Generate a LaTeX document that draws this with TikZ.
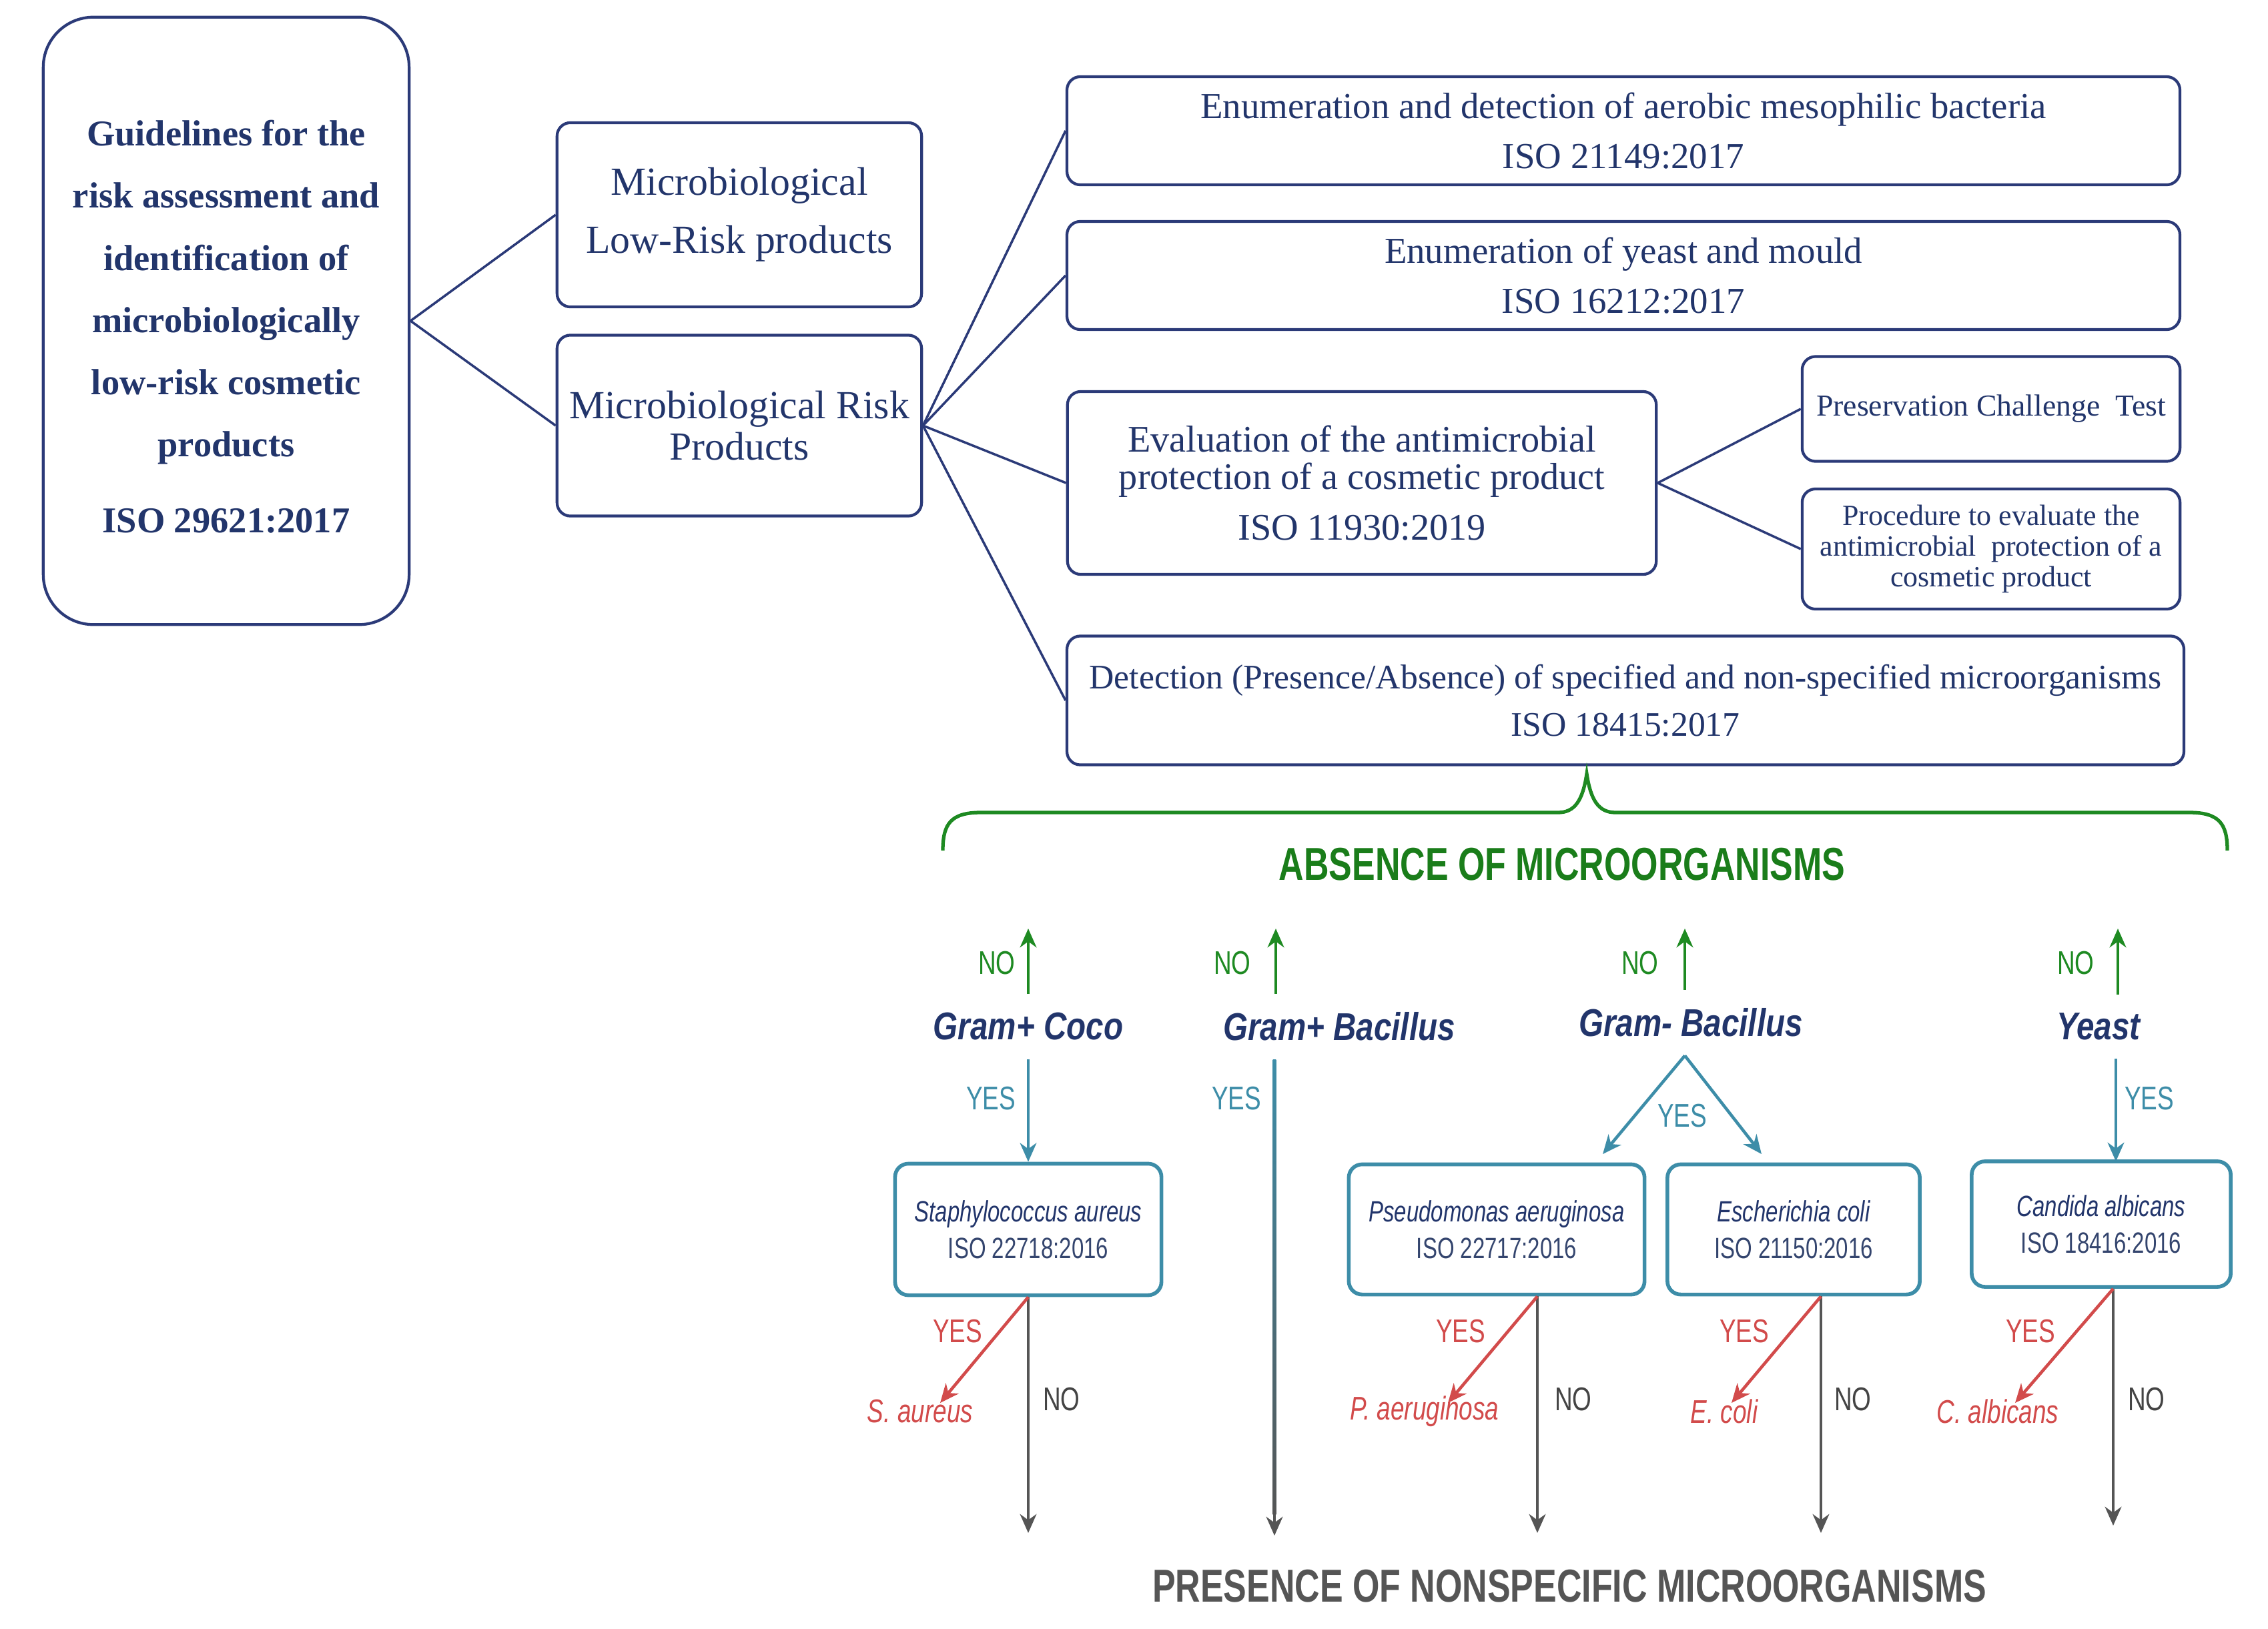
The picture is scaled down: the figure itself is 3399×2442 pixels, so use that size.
\documentclass[tikz,border=0pt]{standalone}
\usepackage{fontspec}
\setmainfont{Liberation Serif}
\newfontfamily\condsans[FakeStretch=0.75]{Liberation Sans}
\newfontfamily\gramsans[FakeStretch=0.82]{Liberation Sans}
\usetikzlibrary{arrows.meta}
\definecolor{navy}{HTML}{2B3A78}
\definecolor{navytext}{HTML}{22356B}
\definecolor{tealc}{HTML}{3D8DA8}
\definecolor{greenc}{HTML}{1E8A22}
\definecolor{greentext}{HTML}{1A7D1A}
\definecolor{redc}{HTML}{D24B4B}
\definecolor{grayc}{HTML}{555555}
\definecolor{isotext}{HTML}{34456E}
\tikzset{
 topbox/.style={draw=navy, line width=1.2pt, rounded corners=0.2cm, text=navytext, align=center, inner sep=0pt},
 link/.style={draw=navy, line width=1pt},
 tealbox/.style={draw=tealc, line width=1.6pt, rounded corners=0.2cm, align=center, inner sep=0pt, text=isotext,
   font=\condsans\fontsize{12.5}{15.6}\selectfont},
 tip/.style={-{Stealth[length=8pt,width=7pt,inset=2.5pt]}},
 garr/.style={draw=greenc, line width=1.3pt, tip},
 tarr/.style={draw=tealc, line width=1.3pt, tip},
 rarr/.style={draw=redc, line width=1.3pt, tip},
 darr/.style={draw=grayc, line width=1.3pt, tip},
 gram/.style={font=\gramsans\bfseries\itshape\fontsize{16.5}{18}\selectfont, text=navytext, inner sep=2pt, outer sep=6pt},
 lbl/.style={font=\condsans\fontsize{14}{16}\selectfont},
 spc/.style={font=\condsans\itshape\fontsize{14}{16}\selectfont, text=redc},
 big/.style={font=\condsans\bfseries\fontsize{19.7}{24}\selectfont},
}
\begin{document}
\begin{tikzpicture}[x=0.01cm, y=-0.01cm]
\useasboundingbox[fill=white] (0,0) rectangle (3399,2442);

% top part
\node[topbox, rounded corners=0.75cm, minimum width=5.48cm, minimum height=9.10cm,
  font=\bfseries\fontsize{15.5}{26.5}\selectfont] (main) at (339,481)
  {\rule{0pt}{16pt}Guidelines for the\\ risk assessment and\\ identification of\\ microbiologically\\ low-risk cosmetic\\ products\\[6pt] ISO 29621:2017};
\node[topbox, minimum width=5.46cm, minimum height=2.76cm, font=\fontsize{17}{24.7}\selectfont] (low) at (1108,322)
  {Microbiological\\ Low-Risk products};
\node[topbox, minimum width=5.46cm, minimum height=2.71cm, font=\fontsize{17}{17.5}\selectfont] (risk) at (1108,638)
  {Microbiological Risk\\ Products};
\node[topbox, minimum width=16.67cm, minimum height=1.62cm, font=\fontsize{15.6}{21.5}\selectfont] (b1) at (2433,196)
  {Enumeration and detection of aerobic mesophilic bacteria\\ ISO 21149:2017};
\node[topbox, minimum width=16.67cm, minimum height=1.62cm, font=\fontsize{15.6}{21.5}\selectfont] (b2) at (2433,413)
  {Enumeration of yeast and mould\\ ISO 16212:2017};
\node[topbox, minimum width=8.82cm, minimum height=2.74cm, font=\fontsize{16}{16}\selectfont] (b3) at (2041,724)
  {Evaluation of the antimicrobial\\ protection of a cosmetic product\\[5.7pt] ISO 11930:2019};
\node[topbox, minimum width=5.66cm, minimum height=1.57cm, font=\fontsize{13}{15}\selectfont] (b4) at (2984,613)
  {Preservation Challenge\ \ Test};
\node[topbox, minimum width=5.66cm, minimum height=1.80cm, font=\fontsize{12.5}{13}\selectfont] (b5) at (2984,823)
  {Procedure to evaluate the\\ antimicrobial\ \ protection of a\\ cosmetic product};
\node[topbox, minimum width=16.73cm, minimum height=1.93cm, font=\fontsize{14.7}{20}\selectfont] (b6) at (2436,1050)
  {Detection (Presence/Absence) of specified and non-specified microorganisms\\ ISO 18415:2017};

\draw[link] (main.east) -- (low.west);
\draw[link] (main.east) -- (risk.west);
\draw[link] (risk.east) -- (b1.west);
\draw[link] (risk.east) -- (b2.west);
\draw[link] (risk.east) -- (b3.west);
\draw[link] (risk.east) -- (b6.west);
\draw[link] (b3.east) -- (b4.west);
\draw[link] (b3.east) -- (b5.west);

% brace
\coordinate (brL) at (1413,1275);
\coordinate (brR) at (3338,1275);
\coordinate (brT) at (2378,1160);
\draw[greenc, line width=1.5pt] (brL) .. controls (1413,1235) and (1425,1218) .. (1470,1218) -- (2335,1218)
  .. controls (2360,1218) and (2372,1200) .. (brT)
  .. controls (2384,1200) and (2396,1218) .. (2421,1218) -- (3281,1218)
  .. controls (3326,1218) and (3338,1235) .. (brR);
\node[big, text=greentext] (absence) at (2341,1296) {ABSENCE OF MICROORGANISMS};

% categories
\node[gram] (coco) at (1541,1539) {Gram+ Coco};
\node[gram] (gpb) at (2007,1539) {Gram+ Bacillus};
\node[gram] (gmb) at (2534,1533) {Gram- Bacillus};
\node[gram] (yeast) at (3145,1539) {Yeast};

\coordinate (nA) at (1541,1392);
\coordinate (nB) at (1912,1392);
\coordinate (nC) at (2525,1392);
\coordinate (nD) at (3174,1392);
\draw[garr] (coco.north) -- (nA);
\draw[garr] (gpb.north -| nB) -- (nB);
\draw[garr] (gmb.north -| nC) -- (nC);
\draw[garr] (yeast.north -| nD) -- (nD);
\node[lbl, text=greenc] (noA) at (1494,1444) {NO};
\node[lbl, text=greenc] (noB) at (1847,1444) {NO};
\node[lbl, text=greenc] (noC) at (2458,1444) {NO};
\node[lbl, text=greenc] (noD) at (3111,1444) {NO};

% species boxes
\node[tealbox, minimum width=3.99cm, minimum height=1.97cm] (staph) at (1541,1843)
  {{\color{navytext}\itshape Staphylococcus aureus}\\ ISO 22718:2016};
\node[tealbox, minimum width=4.43cm, minimum height=1.95cm] (pseu) at (2243,1843)
  {{\color{navytext}\itshape Pseudomonas aeruginosa}\\ ISO 22717:2016};
\node[tealbox, minimum width=3.78cm, minimum height=1.95cm] (ecoli) at (2688,1843)
  {{\color{navytext}\itshape Escherichia coli}\\ ISO 21150:2016};
\node[tealbox, minimum width=3.88cm, minimum height=1.88cm] (cand) at (3149,1835)
  {{\color{navytext}\itshape Candida albicans}\\ ISO 18416:2016};

% YES teal arrows
\coordinate (gpbEnd) at (1910,2302);
\coordinate (gpbMid) at (1910,2270);
\coordinate (yA) at (3171,1741);
\coordinate (gmA) at (2525,1580);
\coordinate (tPs) at (2402,1730);
\coordinate (tEc) at (2640,1730);
\draw[tarr] (coco.south) -- (staph.north);
\shade[top color=tealc, bottom color=grayc, middle color=tealc!50!grayc]
  ([xshift=-0.65pt]gpb.south -| gpbEnd) rectangle ([xshift=0.65pt]gpbMid);
\draw[darr] (gpbMid) -- (gpbEnd);
\draw[tarr] (gmb.south -| gmA) -- (tPs);
\draw[tarr] (gmb.south -| gmA) -- (tEc);
\draw[tarr] (yeast.south -| yA) -- (yA);
\node[lbl, text=tealc] (yesA) at (1485,1647) {YES};
\node[lbl, text=tealc] (yesB) at (1853,1647) {YES};
\node[lbl, text=tealc] (yesC) at (2521,1673) {YES};
\node[lbl, text=tealc] (yesD) at (3221,1647) {YES};

% gray NO arrows
\coordinate (gS) at (1541,2298);
\coordinate (gP) at (2304,2298);
\coordinate (gE) at (2729,2298);
\coordinate (gC) at (3167,2287);
\draw[darr] (staph.south -| gS) -- (gS);
\draw[darr] (pseu.south -| gP) -- (gP);
\draw[darr] (ecoli.south -| gE) -- (gE);
\draw[darr] (cand.south -| gC) -- (gC);
\node[lbl, text=grayc!80!black] (ndA) at (1591,2098) {NO};
\node[lbl, text=grayc!80!black] (ndB) at (2358,2098) {NO};
\node[lbl, text=grayc!80!black] (ndC) at (2777,2098) {NO};
\node[lbl, text=grayc!80!black] (ndD) at (3217,2098) {NO};

% red YES arrows
\coordinate (rS) at (1409,2103);
\coordinate (rP) at (2170,2103);
\coordinate (rE) at (2595,2103);
\coordinate (rC) at (3020,2103);
\draw[rarr] (staph.south -| gS) -- (rS);
\draw[rarr] (pseu.south -| gP) -- (rP);
\draw[rarr] (ecoli.south -| gE) -- (rE);
\draw[rarr] (cand.south -| gC) -- (rC);
\node[lbl, text=redc] (ryA) at (1435,1996) {YES};
\node[lbl, text=redc] (ryB) at (2189,1996) {YES};
\node[lbl, text=redc] (ryC) at (2614,1996) {YES};
\node[lbl, text=redc] (ryD) at (3043,1996) {YES};
\node[spc] (spS) at (1379,2116) {S. aureus};
\node[spc] (spP) at (2135,2116) {P. aeruginosa};
\node[spc] (spE) at (2584,2116) {E. coli};
\node[spc] (spC) at (2994,2116) {C. albicans};

\node[big, text=grayc] (presence) at (2352,2378) {PRESENCE OF NONSPECIFIC MICROORGANISMS};
\end{tikzpicture}
\end{document}
